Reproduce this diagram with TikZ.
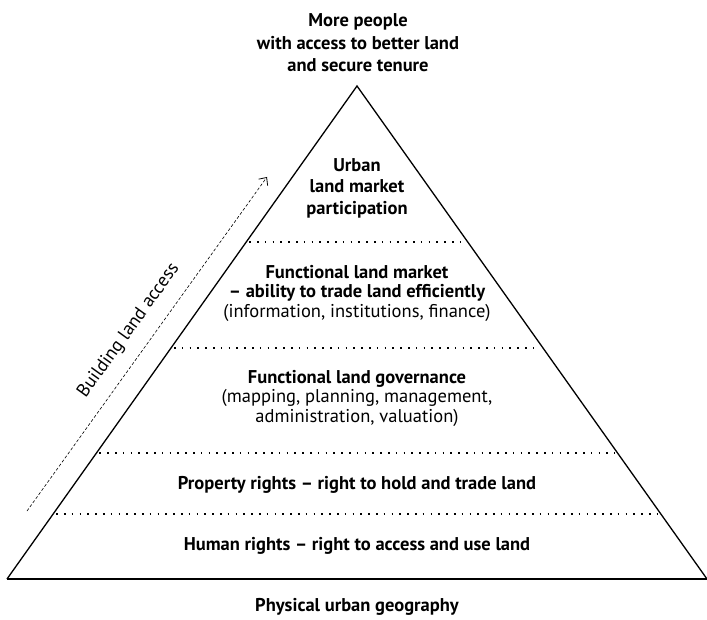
\documentclass[tikz,border=0pt]{standalone}
\usepackage{fontspec}
\setmainfont{PT Sans}
\usetikzlibrary{arrows.meta,calc}
\begin{document}
\begin{tikzpicture}[x=1pt,y=-1pt,
  every node/.style={inner sep=0pt,outer sep=0pt,align=center},
  boldtext/.style={font=\fontsize{18.5}{20}\selectfont\bfseries},
  regular/.style={font=\fontsize{18.5}{19.5}\selectfont},
  side/.style={line width=1.3pt,line join=miter},
  dotline/.style={line width=1.6pt,dash pattern=on 1.6pt off 6.2pt,shorten <=3pt,shorten >=3pt},
  buildarrow/.style={line width=0.6pt,dash pattern=on 3pt off 2pt,-{Straight Barb[length=6pt,width=11pt,line width=0.8pt]}}]
\useasboundingbox (0,0) rectangle (707,620);
\coordinate (apex) at (357,86);
\coordinate (bl) at (7,579);
\coordinate (br) at (707,579);
\draw[side] (bl) -- (apex) -- (br);
\draw[line width=1.8pt] (bl) -- (br);
% dotted layer boundaries
\foreach \t/\n in {0.3164/a,0.5314/b,0.7444/c,0.8682/d}{
  \coordinate (L\n) at ($(apex)!\t!(bl)$);
  \coordinate (R\n) at ($(apex)!\t!(br)$);
  \draw[dotline] (L\n) -- (R\n);
}
% texts
\node[boldtext,font=\fontsize{18.5}{22.5}\selectfont\bfseries] (title) at (358,43) {More people\\with access to better land\\and secure tenure};
\node[boldtext,font=\fontsize{18.5}{21.5}\selectfont\bfseries] (urban) at (357,188) {Urban\\land market\\participation};
\node[regular] (flm) at (357,293) {{\bfseries Functional land market}\\{\bfseries – ability to trade land efficiently}\\(information, institutions, finance)};
\node[regular] (flg) at (357,398) {{\bfseries Functional land governance}\\(mapping, planning, management,\\administration, valuation)};
\node[boldtext] (prop) at (357,485) {Property rights – right to hold and trade land};
\node[boldtext] (human) at (357,546) {Human rights – right to access and use land};
\node[boldtext] (geo) at (357,607) {Physical urban geography};
% building arrow
\coordinate (as) at (27,511);
\coordinate (ae) at (267,177);
\draw[buildarrow] (as) -- node[regular,sloped,pos=0.5,above=14pt] (build) {Building land access} (ae);
\end{tikzpicture}
\end{document}
